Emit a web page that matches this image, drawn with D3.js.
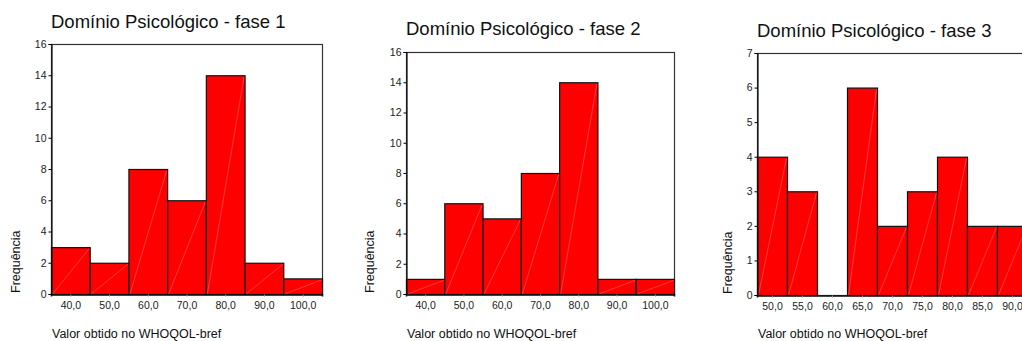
<!DOCTYPE html>
<html>
<head>
<meta charset="utf-8">
<title>Domínio Psicológico</title>
<script src="https://d3js.org/d3.v7.min.js"></script>
<style>
  body { margin: 0; background: #fff; }
  svg { display: block; font-family: Arial, "Liberation Sans", sans-serif; }
</style>
</head>
<body>
<div id="chart"></div>
<script>

// fase 1
const bins1 = [40, 50, 60, 70, 80, 90, 100];
const counts1 = [3, 2, 8, 6, 14, 2, 1];
const yTicks1 = [0, 2, 4, 6, 8, 10, 12, 14, 16];

// fase 2
const bins2 = [40, 50, 60, 70, 80, 90, 100];
const counts2 = [1, 6, 5, 8, 14, 1, 1];
const yTicks2 = [0, 2, 4, 6, 8, 10, 12, 14, 16];

// fase 3
const bins3 = [50, 55, 60, 65, 70, 75, 80, 85, 90];
const counts3 = [4, 3, 0, 6, 2, 3, 4, 2, 2];
const yTicks3 = [0, 1, 2, 3, 4, 5, 6, 7];

const titles = ["Domínio Psicológico - fase 1", "Domínio Psicológico - fase 2", "Domínio Psicológico - fase 3"];
const xTitle = "Valor obtido no WHOQOL-bref";
const yTitle = "Frequência";

const svg = d3.select("#chart").append("svg")
    .attr("width", 1022)
    .attr("height", 341);

const fmt = d => d.toFixed(1).replace(".", ",");

function drawHist(opt) {
  const step = opt.bins[1] - opt.bins[0];
  const x = d3.scaleLinear()
      .domain([opt.bins[0] - step / 2, opt.bins[opt.bins.length - 1] + step / 2])
      .range([opt.left, opt.right]);
  const y = d3.scaleLinear()
      .domain([0, d3.max(opt.yTicks)])
      .range([opt.bottom, opt.top]);

  const g = svg.append("g");

  // title
  g.append("text")
      .attr("x", opt.left)
      .attr("y", opt.titleY)
      .attr("font-size", 18.5)
      .attr("fill", "#111")
      .text(opt.title);

  // frame
  g.append("rect")
      .attr("x", opt.left + 0.5)
      .attr("y", y(d3.max(opt.yTicks)) + 0.5)
      .attr("width", x.range()[1] - x.range()[0])
      .attr("height", opt.bottom - y(d3.max(opt.yTicks)))
      .attr("fill", "none")
      .attr("stroke", "#333")
      .attr("stroke-width", 1.2);

  const data = opt.bins.map((b, i) => ({ b, c: opt.counts[i] }));

  const bars = g.append("g").selectAll("g")
    .data(data.filter(d => d.c > 0))
    .join("g");

  bars.append("rect")
      .attr("x", d => x(d.b - step / 2) + 0.5)
      .attr("y", d => y(d.c) + 0.5)
      .attr("width", x(step) - x(0))
      .attr("height", d => y(0) - y(d.c))
      .attr("fill", "#ff0000")
      .attr("stroke", "#111")
      .attr("stroke-width", 1.2);

  bars.append("line")
      .attr("x1", d => x(d.b - step / 2) + 1.5)
      .attr("y1", y(0))
      .attr("x2", d => x(d.b + step / 2) - 0.5)
      .attr("y2", d => y(d.c) + 1.5)
      .attr("stroke", "rgba(255,255,255,0.4)")
      .attr("stroke-width", 0.6);

  // y axis
  const yAxis = g.append("g")
      .attr("transform", `translate(${opt.left + 0.5},0)`)
      .call(d3.axisLeft(y).tickValues(opt.yTicks).tickSize(3).tickPadding(2).tickFormat(d3.format("d")));
  yAxis.select(".domain").attr("stroke", "#111").attr("stroke-width", 1.2);
  yAxis.selectAll("text").attr("font-size", 10.5).attr("fill", "#222").attr("font-family", "Arial, 'Liberation Sans', sans-serif");

  // x axis
  const xAxis = g.append("g")
      .attr("transform", `translate(0,${opt.bottom + 0.5})`)
      .call(d3.axisBottom(x).tickValues(opt.bins).tickSize(2).tickPadding(5).tickFormat(fmt));
  xAxis.select(".domain").attr("stroke", "#111").attr("stroke-width", 1.6);
  xAxis.selectAll(".tick line").attr("stroke", "#888");
  xAxis.selectAll("text").attr("font-size", 10.5).attr("fill", "#222").attr("font-family", "Arial, 'Liberation Sans', sans-serif");

  // axis titles
  g.append("text")
      .attr("transform", `translate(${opt.yTitleX},${opt.bottom - 1}) rotate(-90)`)
      .attr("font-size", 12.5)
      .attr("fill", "#111")
      .text(yTitle);

  g.append("text")
      .attr("x", opt.left + 1)
      .attr("y", 338)
      .attr("font-size", 12.5)
      .attr("fill", "#111")
      .text(xTitle);
}

drawHist({ bins: bins1, counts: counts1, yTicks: yTicks1, title: titles[0],
  left: 51, right: 322, top: 44, bottom: 294, titleY: 28, yTitleX: 20 });
drawHist({ bins: bins2, counts: counts2, yTicks: yTicks2, title: titles[1],
  left: 406, right: 674, top: 52, bottom: 294, titleY: 35, yTitleX: 374 });
drawHist({ bins: bins3, counts: counts3, yTicks: yTicks3, title: titles[2],
  left: 757, right: 1027, top: 53, bottom: 295, titleY: 37, yTitleX: 732 });

</script>
</body>
</html>
